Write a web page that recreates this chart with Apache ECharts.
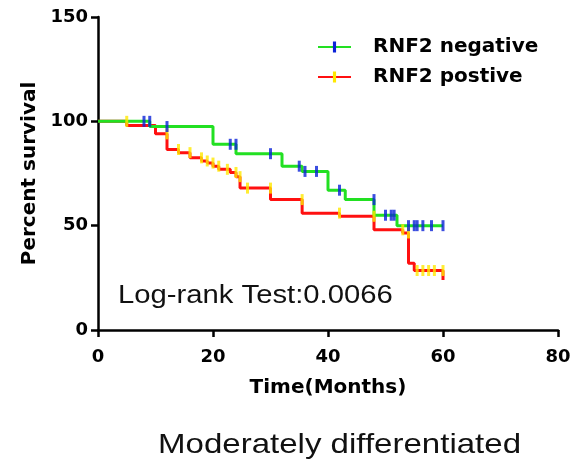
<!DOCTYPE html>
<html>
<head>
<meta charset="utf-8">
<script src="https://cdn.jsdelivr.net/npm/echarts@6/dist/echarts.min.js"></script>
<style>
  html, body { margin: 0; padding: 0; background: #fff; }
  #chart { width: 584px; height: 468px; }
</style>
</head>
<body>
<div id="chart"></div>
<script>
// Kaplan-Meier steps
var negTimes = [0, 9, 20, 24, 32, 35.5, 40, 43, 48, 52, 60];
var negSurv  = [100, 97.5, 89, 84.5, 78.5, 76, 67, 62.5, 55, 50, 50];
var negCensor = [8, 9, 12, 23, 24, 30, 35, 36, 38, 42, 48, 50, 51, 51.5, 54, 55, 55.5, 56.5, 58, 60];

var posTimes = [0, 5, 10, 12, 14, 16, 18, 19, 20, 21, 23, 24, 24.7, 30, 35.5, 42, 48, 53, 54, 55, 60];
var posSurv  = [100, 98, 94, 86.5, 85, 82.5, 81, 80, 78.5, 77, 75.5, 73.5, 68, 62.5, 56, 54.5, 48, 46.5, 32, 28.5, 24];
var posCensor = [5, 12, 14, 16, 18, 19, 20, 21, 22.5, 24, 24.7, 26, 30, 35.5, 42, 48, 53, 54, 55.5, 56.5, 57.5, 58.5, 60];

var xTicks = [0, 20, 40, 60, 80];
var yTicks = [0, 50, 100, 150];

var names = ['RNF2 negative', 'RNF2 postive'];
var GREEN = '#22e022', BLUE = '#0a22d8', RED = '#ff1010', YELLOW = '#ffe800';
// thin vertical bar, padded with two tiny corner dots so the legend square keeps it narrow
var tickPath = 'path://M0,0 L0.01,0 L0.01,0.01 Z M3.6,0 L6.4,0 L6.4,10 L3.6,10 Z M10,10 L9.99,10 L9.99,9.99 Z';

function pairs(ts, vs) {
    var out = [];
    for (var i = 0; i < ts.length; i++) out.push([ts[i], vs[i]]);
    return out;
}
// survival value at time t (value just before a drop at t)
function survAt(ts, vs, t) {
    var v = vs[0];
    for (var i = 0; i < ts.length; i++) {
        if (ts[i] < t) v = vs[i];
    }
    return v;
}
function censorPts(cs, ts, vs) {
    return cs.map(function (t) { return [t, survAt(ts, vs, t)]; });
}

var labelFont = { fontFamily: 'DejaVu Sans', fontWeight: 'bold', fontSize: 18, color: '#000' };
var nameFont = { fontFamily: 'DejaVu Sans', fontWeight: 'bold', fontSize: 20, color: '#000' };

var myChart = echarts.init(document.getElementById('chart'));
var option = {
    animation: false,
    grid: { left: 98, right: 26, top: 17, bottom: 138, containLabel: false },
    legend: {
        data: names,
        orient: 'vertical',
        left: 312,
        top: 32,
        itemWidth: 33,
        itemHeight: 14,
        itemGap: 10,
        textStyle: { fontFamily: 'DejaVu Sans', fontWeight: 'bold', fontSize: 20, color: '#000', padding: [0, 0, 0, 17] }
    },
    xAxis: {
        type: 'value',
        min: 0, max: 80, interval: 20,
        name: 'Time(Months)',
        nameLocation: 'middle',
        nameGap: 48,
        nameTextStyle: nameFont,
        splitLine: { show: false },
        axisLine: { lineStyle: { color: '#000', width: 2.5 } },
        axisTick: { length: 7, lineStyle: { color: '#000', width: 2.5 } },
        axisLabel: Object.assign({ margin: 18, formatter: function (v) { return xTicks.indexOf(v) >= 0 ? v : ''; } }, labelFont)
    },
    yAxis: {
        type: 'value',
        min: 0, max: 150, interval: 50,
        name: 'Percent survival',
        nameLocation: 'middle',
        nameGap: 57,
        nameRotate: 90,
        nameTextStyle: nameFont,
        splitLine: { show: false },
        axisLine: { lineStyle: { color: '#000', width: 2.5 } },
        axisTick: { length: 7, lineStyle: { color: '#000', width: 2.5 } },
        axisLabel: Object.assign({ margin: 10, formatter: function (v) { return yTicks.indexOf(v) >= 0 ? v : ''; } }, labelFont)
    },
    graphic: [
        {
            type: 'text', x: 118, y: 284, scaleX: 1.17,
            style: { text: 'Log-rank Test:0.0066', font: '25px "Liberation Sans"', fill: '#111', verticalAlign: 'top' }
        },
        {
            type: 'text', x: 158, y: 431, scaleX: 1.18,
            style: { text: 'Moderately differentiated', font: '28px "Liberation Sans"', fill: '#111', verticalAlign: 'top' }
        }
    ],
    series: [
        {
            name: names[0], type: 'line', step: 'end',
            data: pairs(negTimes, negSurv),
            showSymbol: false, symbol: tickPath, symbolSize: [10, 12],
            itemStyle: { color: BLUE },
            lineStyle: { color: GREEN, width: 3 },
            z: 3
        },
        {
            name: names[1], type: 'line', step: 'end',
            data: pairs(posTimes, posSurv),
            showSymbol: false, symbol: tickPath, symbolSize: [10, 12],
            itemStyle: { color: YELLOW },
            lineStyle: { color: RED, width: 3 },
            z: 2
        },
        {
            name: 'negCensor', type: 'scatter',
            data: censorPts(negCensor, negTimes, negSurv),
            symbol: 'rect', symbolSize: [3, 11],
            itemStyle: { color: BLUE },
            z: 5
        },
        {
            name: 'posCensor', type: 'scatter',
            data: censorPts(posCensor, posTimes, posSurv),
            symbol: 'rect', symbolSize: [3, 11],
            itemStyle: { color: YELLOW },
            z: 4
        }
    ]
};
myChart.setOption(option);
</script>
</body>
</html>
